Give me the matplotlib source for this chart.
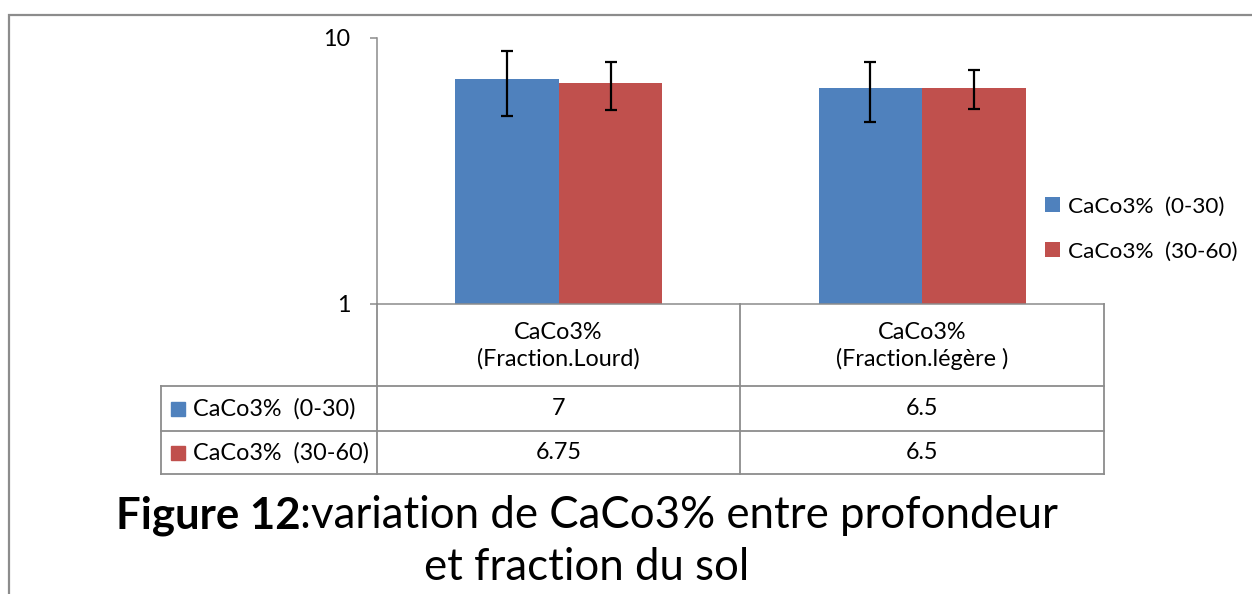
import matplotlib

matplotlib.use("Agg")
import matplotlib.pyplot as plt
import numpy as np
from matplotlib.patches import Rectangle

# données
categories = ["CaCo3%\n(Fraction.Lourd)", "CaCo3%\n(Fraction.légère )"]
series = ["CaCo3%  (0-30)", "CaCo3%  (30-60)"]
val_0_30 = [7, 6.5]
val_30_60 = [6.75, 6.5]
err_0_30 = [1.9, 1.65]
err_30_60 = [1.4, 1.07]
y_ticks = [1, 10]
caption_bold = "Figure 12"
caption_rest = ":variation de CaCo3% entre profondeur"
caption_line2 = "et fraction du sol"

COLORS = ["#4F81BD", "#C0504D"]
GRID = "#8c8c8c"
FS = 16.8

plt.rcParams["font.family"] = ["Lato", "DejaVu Sans"]

W, H = 1252, 594
fig = plt.figure(figsize=(W / 100, H / 100), dpi=100)

# calque en pixels pour cadre, tableau et légende
over = fig.add_axes([0, 0, 1, 1])
over.set_xlim(0, W)
over.set_ylim(H, 0)
over.axis("off")

ax = fig.add_axes([377 / W, 1 - 304 / H, (1104 - 377) / W, (304 - 38) / H])
ax.set_facecolor("none")
x = np.arange(len(categories))
bw = 0.285
vals = [val_0_30, val_30_60]
errs = [err_0_30, err_30_60]
bars = []
for i, (v, e) in enumerate(zip(vals, errs)):
    off = (i - 0.5) * bw
    b = ax.bar(x + off, v, bw, color=COLORS[i], label=series[i], zorder=2)
    bars.append(b)
    ax.errorbar(x + off, v, yerr=e, fmt="none", ecolor="black", elinewidth=1.6,
                capsize=4.4, capthick=1.6, zorder=3)

ax.set_yscale("log")
ax.set_ylim(1, 10)
ax.set_xlim(-0.5, 1.5)
ax.set_yticks(y_ticks)
ax.set_yticklabels([f"{t:g}" for t in y_ticks])
ax.yaxis.set_minor_locator(matplotlib.ticker.NullLocator())
ax.set_xticks([])
ax.tick_params(axis="y", length=5, width=1.1, color=GRID, labelsize=FS, pad=14)
for s in ["top", "right"]:
    ax.spines[s].set_visible(False)
for s in ["left", "bottom"]:
    ax.spines[s].set_color(GRID)
    ax.spines[s].set_linewidth(1.1)

# cadre extérieur
over.plot([9, 9, W], [H, 15, 15], color=GRID, lw=1.6, solid_joinstyle="miter")

# tableau de données
col_x = [377, 740, 1104]
row_y = [304, 386, 431, 474]
lkw = dict(color=GRID, lw=1.3)
over.plot([377, 377], [304, 474], **lkw)
over.plot([740, 740], [304, 474], **lkw)
over.plot([1104, 1104], [304, 474], **lkw)
over.plot([161, 161], [386, 474], **lkw)
for yy in row_y[1:]:
    over.plot([161, 1104], [yy, yy], **lkw)

for j, cat in enumerate(categories):
    cx = (col_x[j] + col_x[j + 1]) / 2
    over.text(cx, 346, cat, ha="center", va="center", fontsize=FS, linespacing=1.3)
    for i in range(len(series)):
        cy = (row_y[i + 1] + row_y[i + 2]) / 2
        over.text(cx, cy, f"{vals[i][j]:g}", ha="center", va="center", fontsize=FS)

for i, name in enumerate(series):
    cy = (row_y[i + 1] + row_y[i + 2]) / 2
    over.add_patch(Rectangle((171, cy - 7), 14, 14, color=COLORS[i]))
    over.text(193, cy, name, ha="left", va="center", fontsize=FS)

# légende
leg = ax.legend(handles=bars, loc="center left", bbox_to_anchor=(1045 / W, 1 - 229 / H),
                bbox_transform=fig.transFigure, frameon=False, fontsize=16.2,
                handlelength=0.65, handleheight=0.65, handletextpad=0.35, labelspacing=1.12,
                borderpad=0, borderaxespad=0)

# légende de figure
renderer = fig.canvas.get_renderer()
t1 = over.text(0, 528, caption_bold, fontsize=31.5, fontweight="bold", ha="left", va="baseline")
t2 = over.text(0, 528, caption_rest, fontsize=31.5, ha="left", va="baseline")
w1 = t1.get_window_extent(renderer).width
w2 = t2.get_window_extent(renderer).width
start = 587 - (w1 + w2) / 2
t1.set_x(start)
t2.set_x(start + w1)
over.text(587, 580, caption_line2, fontsize=31.5, ha="center", va="baseline")

fig.savefig("out.png", dpi=100)
